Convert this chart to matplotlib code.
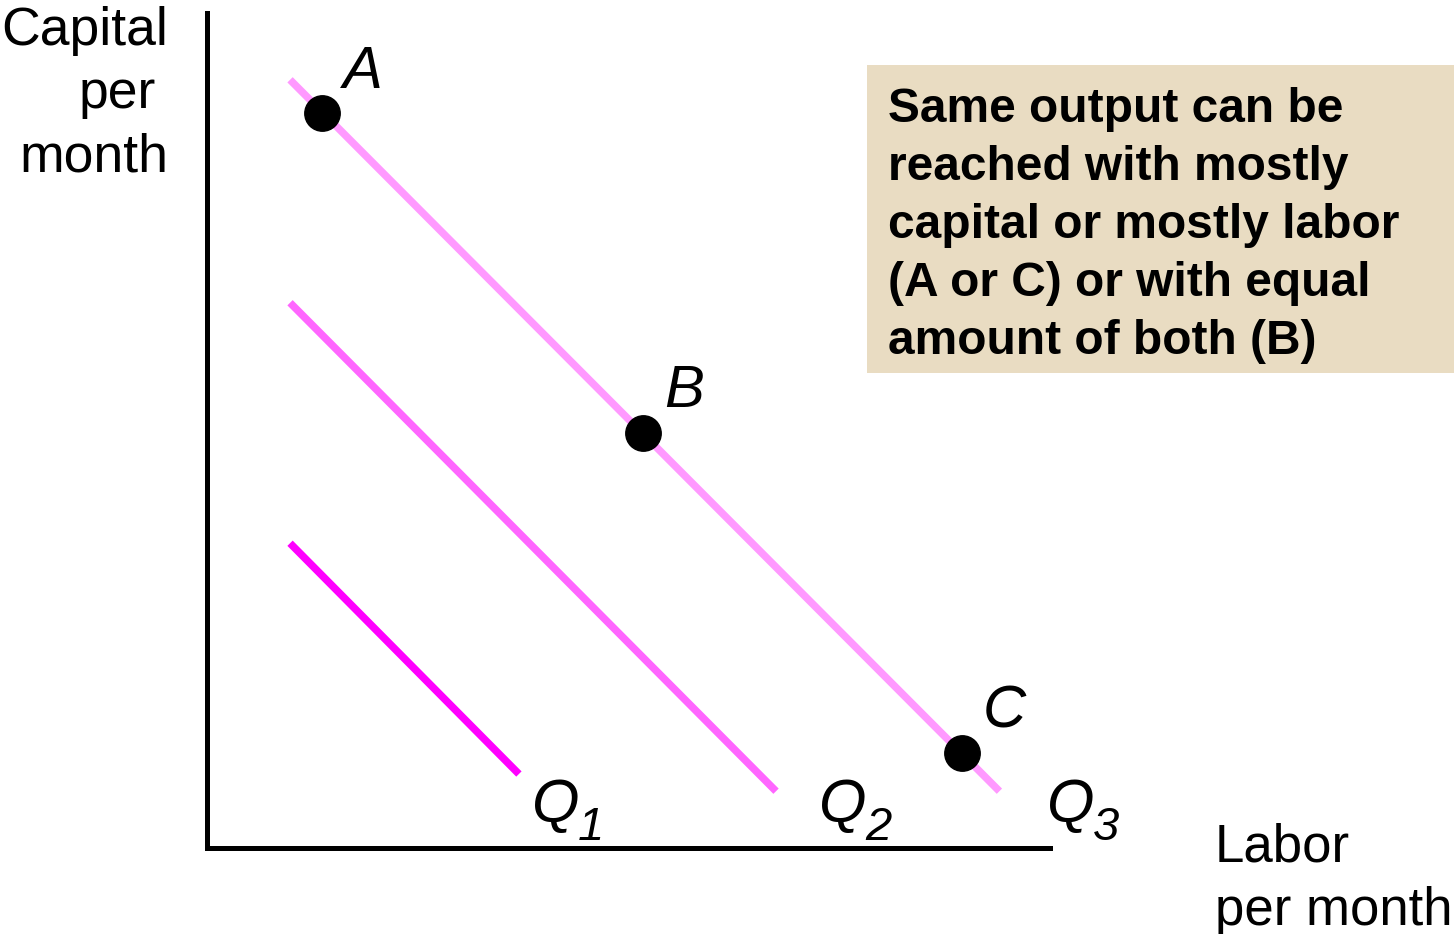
import matplotlib
matplotlib.use("Agg")
import matplotlib.pyplot as plt
from matplotlib.patches import Rectangle

# ---- data (arbitrary units, axes span 0..10) ----
curve_names = ["1", "2", "3"]
curve_x = [[0.985, 3.70], [0.985, 6.75], [0.985, 9.40]]
curve_y = [[3.65, 0.886], [6.53, 0.68], [9.20, 0.68]]
curve_colors = ["#FF00FF", "#FF66FF", "#FF99FF"]
curve_label_x = [3.86, 7.26, 9.96]
curve_label_y = [0.31, 0.31, 0.31]

point_names = ["A", "B", "C"]
point_x = [1.36, 5.17, 8.96]
point_y = [8.80, 4.97, 1.14]

y_label_lines = ["Capital", "per", "month"]
x_label_lines = ["Labor", "per month"]
box_lines = [
    "Same output can be",
    "reached with mostly",
    "capital or mostly labor",
    "(A or C) or with equal",
    "amount of both (B)",
]

W, H = 1454, 934
fig = plt.figure(figsize=(W / 100, H / 100), dpi=100)
fig.patch.set_facecolor("white")

def fx(px):
    return px / W

def fy(py):
    return 1 - py / H

ax = fig.add_axes([fx(207), fy(848), fx(1050) - fx(207), fy(13) - fy(848)])
ax.set_xlim(0, 10)
ax.set_ylim(0, 10)
ax.set_facecolor("none")
for s in ["top", "right"]:
    ax.spines[s].set_visible(False)
for s in ["left", "bottom"]:
    ax.spines[s].set_linewidth(3.6)
    ax.spines[s].set_color("black")
    ax.spines[s].set_capstyle("projecting")
ax.set_xticks([])
ax.set_yticks([])

font = "Liberation Sans"

for xs, ys, c in zip(curve_x, curve_y, curve_colors):
    ax.plot(xs, ys, color=c, lw=5.4, solid_capstyle="butt")

for name, lx, ly in zip(curve_names, curve_label_x, curve_label_y):
    ax.text(lx, ly, "Q", fontsize=44, style="italic", family=font,
            ha="left", va="baseline", clip_on=False)
    ax.annotate(name, (lx, ly), xytext=(33, -13), textcoords="offset points",
                fontsize=34, style="italic", family=font,
                ha="left", va="baseline", annotation_clip=False)

ax.plot(point_x, point_y, "o", color="black", markersize=25.5, zorder=5,
        clip_on=False)
for name, px_, py_ in zip(point_names, point_x, point_y):
    ax.annotate(name, (px_, py_), xytext=(15, 18.5), textcoords="offset points",
                fontsize=43, style="italic", family=font,
                ha="left", va="baseline", annotation_clip=False)

# axis labels
ybase = [45, 108, 172]
yright = [168, 156, 168]
for t, b, r in zip(y_label_lines, ybase, yright):
    fig.text(fx(r), fy(b), t, fontsize=38.5, family=font, ha="right",
             va="baseline")
xbase = [861, 925]
for t, b in zip(x_label_lines, xbase):
    fig.text(fx(1215), fy(b), t, fontsize=38, family=font, ha="left",
             va="baseline")

# note box
fig.patches.append(Rectangle((fx(867), fy(373)), fx(1454) - fx(867),
                             fy(65) - fy(373), transform=fig.transFigure,
                             facecolor="#E9DCC2", edgecolor="none", zorder=0))
bbase = [122, 180, 238, 296, 354]
for t, b in zip(box_lines, bbase):
    fig.text(fx(888), fy(b), t, fontsize=34.5, family=font, weight="bold",
             ha="left", va="baseline")

fig.savefig("out.png", dpi=100)
